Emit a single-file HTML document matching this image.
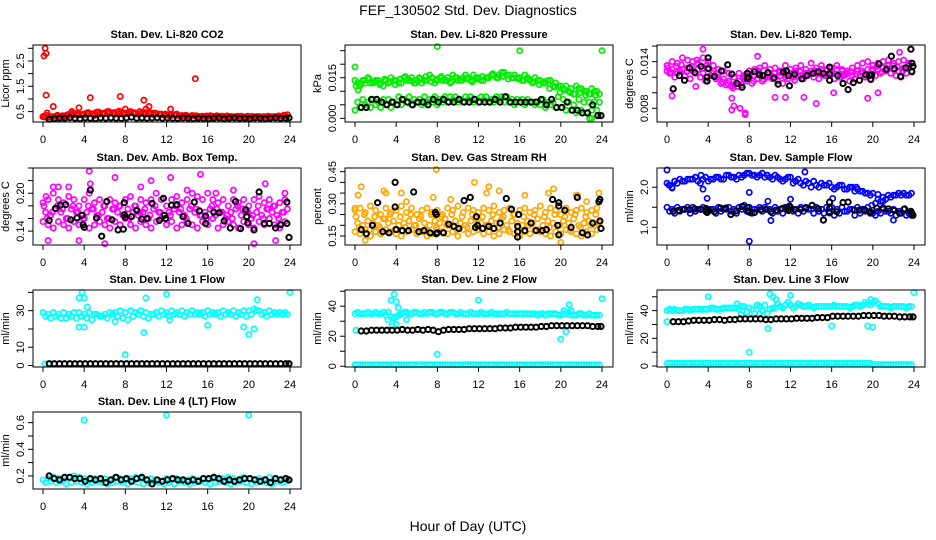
<!DOCTYPE html>
<html><head><meta charset="utf-8"><title>FEF_130502 Std. Dev. Diagnostics</title>
<style>
html,body{margin:0;padding:0;background:#fff;}
svg{display:block;font-family:"Liberation Sans",Arial,sans-serif;}
</style></head>
<body>
<svg id="fig" width="936" height="540" viewBox="0 0 936 540" xmlns="http://www.w3.org/2000/svg">
<rect width="936" height="540" fill="#fff"/>
<text x="468" y="15" text-anchor="middle" font-size="14">FEF_130502  Std. Dev. Diagnostics</text>
<text x="468" y="531" text-anchor="middle" font-size="14">Hour of Day (UTC)</text>
</svg>
<script>
const H48=[0,0.5,1,1.5,2,2.5,3,3.5,4,4.5,5,5.5,6,6.5,7,7.5,8,8.5,9,9.5,10,10.5,11,11.5,12,12.5,13,13.5,14,14.5,15,15.5,16,16.5,17,17.5,18,18.5,19,19.5,20,20.5,21,21.5,22,22.5,23,23.5];
const HQ=[0.25,0.75,1.25,1.75,2.25,2.75,3.25,3.75,4.25,4.75,5.25,5.75,6.25,6.75,7.25,7.75,8.25,8.75,9.25,9.75,10.25,10.75,11.25,11.75,12.25,12.75,13.25,13.75,14.25,14.75,15.25,15.75,16.25,16.75,17.25,17.75,18.25,18.75,19.25,19.75,20.25,20.75,21.25,21.75,22.25,22.75,23.25,23.75];
const HB=[0.6,1.1,1.6,2.1,2.6,3.1,3.6,4.1,4.6,5.1,5.6,6.1,6.6,7.1,7.6,8.1,8.6,9.1,9.6,10.1,10.6,11.1,11.6,12.1,12.6,13.1,13.6,14.1,14.6,15.1,15.6,16.1,16.6,17.1,17.6,18.1,18.6,19.1,19.6,20.1,20.6,21.1,21.6,22.1,22.6,23.1,23.6,23.9];
const HC=[0.1,0.4,0.9,1.4,1.9,2.4,2.9,3.4,3.9,4.4,4.9,5.4,5.9,6.4,6.9,7.4,7.9,8.4,8.9,9.4,9.9,10.4,10.9,11.4,11.9,12.4,12.9,13.4,13.9,14.4,14.9,15.4,15.9,16.4,16.9,17.4,17.9,18.4,18.9,19.4,19.9,20.4,20.9,21.4,21.9,22.4,22.9,23.4];
const xTicks=[0,4,8,12,16,20,24];

// P1 CO2
const co2Red=[0.3,0.28,0.3,0.32,0.3,0.35,0.38,0.4,0.38,0.42,0.35,0.4,0.42,0.45,0.4,0.42,0.45,0.5,0.45,0.42,0.4,0.45,0.42,0.4,0.38,0.35,0.4,0.35,0.32,0.35,0.3,0.32,0.3,0.32,0.3,0.32,0.3,0.28,0.3,0.28,0.3,0.28,0.3,0.3,0.28,0.3,0.32,0.35];
const co2Red2=[0.28,0.3,0.32,0.3,0.35,0.4,0.42,0.38,0.45,0.4,0.48,0.42,0.5,0.44,0.48,0.4,0.42,0.46,0.4,0.44,0.42,0.38,0.4,0.36,0.34,0.38,0.32,0.34,0.3,0.33,0.31,0.3,0.34,0.3,0.32,0.3,0.31,0.3,0.32,0.29,0.31,0.3,0.29,0.31,0.3,0.29,0.3,0.38];
const co2Red3=[0.32,0.35,0.3,0.36,0.34,0.38,0.45,0.36,0.4,0.46,0.42,0.48,0.44,0.5,0.46,0.52,0.4,0.48,0.42,0.5,0.46,0.4,0.44,0.38,0.4,0.36,0.38,0.33,0.36,0.32,0.34,0.31,0.33,0.3,0.34,0.31,0.33,0.3,0.32,0.3,0.32,0.3,0.31,0.3,0.32,0.3,0.33,0.36];
const co2OutX=[0,0.1,0.2,0.3,0.3,1.0,3.5,4.6,7.5,9.8,14.8,10.3,12.4,8.0,0.4,2.8,10.0];
const co2OutY=[0.3,2.7,3.0,2.8,1.15,0.7,0.65,1.05,1.1,0.95,1.8,0.7,0.6,0.6,0.45,0.5,0.6];
const co2Black=[0.2,0.22,0.24,0.24,0.26,0.24,0.22,0.25,0.24,0.22,0.25,0.24,0.25,0.24,0.23,0.25,0.28,0.24,0.25,0.24,0.25,0.26,0.24,0.25,0.24,0.23,0.25,0.24,0.22,0.24,0.23,0.22,0.24,0.25,0.22,0.24,0.25,0.23,0.24,0.22,0.25,0.24,0.22,0.24,0.25,0.23,0.24,0.25];

// P2 Pressure
const presUp=[0.014,0.012,0.013,0.013,0.014,0.013,0.014,0.015,0.014,0.013,0.014,0.015,0.014,0.013,0.014,0.015,0.014,0.014,0.015,0.016,0.014,0.015,0.015,0.016,0.015,0.014,0.015,0.016,0.016,0.017,0.016,0.016,0.015,0.016,0.014,0.015,0.014,0.013,0.014,0.013,0.012,0.012,0.011,0.012,0.011,0.010,0.011,0.010];
const presUp2=[0.013,0.014,0.015,0.013,0.014,0.012,0.013,0.014,0.013,0.015,0.014,0.013,0.015,0.014,0.016,0.013,0.015,0.014,0.013,0.015,0.014,0.016,0.014,0.015,0.014,0.015,0.016,0.015,0.017,0.016,0.015,0.015,0.014,0.015,0.013,0.014,0.013,0.014,0.012,0.012,0.011,0.010,0.009,0.011,0.010,0.009,0.010,0.009];
const presUp3=[0.012,0.0125,0.014,0.0145,0.0135,0.0125,0.0145,0.0135,0.0125,0.0145,0.0155,0.014,0.013,0.0145,0.0155,0.0135,0.0145,0.0155,0.014,0.0135,0.015,0.014,0.0145,0.0135,0.0145,0.0155,0.015,0.0165,0.015,0.0155,0.0145,0.015,0.0145,0.014,0.0145,0.0135,0.0125,0.0135,0.011,0.0115,0.0095,0.0105,0.0095,0.009,0.0095,0.0085,0.009,0.0085];
const presLo=[0.003,0.004,0.005,0.004,0.005,0.004,0.005,0.004,0.005,0.005,0.006,0.005,0.006,0.005,0.006,0.006,0.005,0.006,0.006,0.007,0.006,0.006,0.007,0.006,0.006,0.007,0.006,0.006,0.007,0.006,0.006,0.005,0.006,0.005,0.006,0.005,0.005,0.004,0.005,0.004,0.004,0.003,0.003,0.002,0.003,0.002,0.003,0.003];
const presLo2=[0.006,0.007,0.006,0.007,0.006,0.007,0.007,0.006,0.008,0.007,0.008,0.007,0.007,0.008,0.007,0.008,0.007,0.008,0.008,0.008,0.007,0.008,0.008,0.007,0.008,0.008,0.007,0.008,0.008,0.008,0.007,0.007,0.007,0.007,0.006,0.006,0.007,0.006,0.006,0.008,0.007,0.006,0.005,0.007,0.006,0.006,0.006,0.006];
const presBlack=[0.004,0.004,0.007,0.007,0.006,0.005,0.006,0.005,0.007,0.006,0.005,0.006,0.006,0.005,0.007,0.006,0.007,0.006,0.006,0.007,0.006,0.006,0.007,0.006,0.006,0.006,0.007,0.006,0.008,0.006,0.006,0.006,0.006,0.006,0.006,0.007,0.005,0.007,0.004,0.004,0.006,0.003,0.003,0.002,0.002,0.005,0.001,0.001];
const presOutX=[0,8,16,24,0,0.3,22.8,23.0];
const presOutY=[0.019,0.0265,0.025,0.025,0.014,0.0105,0.0,0.0];

// P3 Li-820 Temp
const tempUp=[0.0135,0.0140,0.0138,0.0145,0.0142,0.0140,0.0138,0.0145,0.0140,0.0135,0.0130,0.0128,0.0125,0.0120,0.0125,0.0122,0.0128,0.0130,0.0132,0.0135,0.0130,0.0132,0.0128,0.0135,0.0130,0.0132,0.0135,0.0130,0.0138,0.0132,0.0135,0.0130,0.0132,0.0135,0.0130,0.0128,0.0132,0.0135,0.0138,0.0140,0.0135,0.0138,0.0140,0.0142,0.0138,0.0140,0.0142,0.0138];
const tempLo=[0.0125,0.0120,0.0128,0.0122,0.0118,0.0125,0.0120,0.0115,0.0122,0.0118,0.0112,0.0110,0.0108,0.0112,0.0110,0.0115,0.0112,0.0118,0.0115,0.0120,0.0118,0.0115,0.0112,0.0118,0.0120,0.0122,0.0118,0.0125,0.0120,0.0118,0.0122,0.0125,0.0118,0.0120,0.0122,0.0115,0.0118,0.0122,0.0120,0.0118,0.0122,0.0125,0.0128,0.0125,0.0122,0.0120,0.0125,0.0128];
const tempMid=[0.0128,0.0130,0.0125,0.0130,0.0132,0.0128,0.0130,0.0125,0.0132,0.0128,0.0125,0.0118,0.0115,0.0110,0.0115,0.0118,0.0120,0.0122,0.0125,0.0122,0.0120,0.0125,0.0122,0.0120,0.0125,0.0128,0.0122,0.0125,0.0128,0.0125,0.0130,0.0128,0.0125,0.0130,0.0128,0.0125,0.0122,0.0128,0.0125,0.0130,0.0128,0.0130,0.0132,0.0135,0.0130,0.0128,0.0132,0.0135];
const tempMid2=[0.0132,0.0126,0.0134,0.0136,0.0127,0.0134,0.0142,0.0131,0.0136,0.0125,0.0120,0.0114,0.0112,0.0106,0.0108,0.0120,0.0125,0.0115,0.0128,0.0117,0.0124,0.0120,0.0126,0.0124,0.0122,0.0116,0.0127,0.0121,0.0124,0.0128,0.0126,0.0122,0.0127,0.0124,0.0120,0.0124,0.0127,0.0124,0.0128,0.0124,0.0130,0.0134,0.0127,0.0131,0.0135,0.0133,0.0128,0.0131];
const tempOutX=[0.5,3.5,6.5,6.3,7.1,7.6,7.6,8.8,14.5,19.5,22.6,6.3,10.5,11.5,2.8,16.2,20.5,13.3];
const tempOutY=[0.0096,0.0156,0.0083,0.0078,0.0080,0.0074,0.0072,0.0147,0.0086,0.0093,0.0152,0.0093,0.0094,0.0094,0.0108,0.0100,0.0100,0.0094];
const tempBlackX=[0.6,1.2,1.7,2.2,2.7,3.3,3.9,3.9,4.0,4.0,4.6,5.3,5.9,6.3,6.8,7.3,7.8,7.8,7.9,8.5,9.0,9.3,9.8,10.4,10.8,11.3,11.6,11.8,11.9,12.4,13.1,13.6,14.2,14.7,15.2,15.8,15.8,15.8,16.6,17.1,17.6,18.1,18.7,19.3,19.7,19.8,19.9,20.6,21.3,21.8,22.1,22.7,23.2,23.7,23.8,23.8,23.9];
const tempBlackY=[0.0105,0.0122,0.0116,0.0132,0.0126,0.0134,0.0115,0.0120,0.0145,0.0131,0.0121,0.0128,0.0136,0.0124,0.0112,0.0107,0.0125,0.0118,0.0120,0.0127,0.0123,0.0122,0.0126,0.0119,0.0111,0.0127,0.0128,0.0122,0.0109,0.0124,0.0118,0.0122,0.0125,0.0127,0.0125,0.0133,0.0124,0.0116,0.0122,0.0112,0.0104,0.0113,0.0116,0.0123,0.0122,0.0117,0.0123,0.0137,0.0130,0.0147,0.0131,0.0121,0.0132,0.0156,0.0138,0.0127,0.0134];

// P4 Amb Box Temp
const ambUp=[0.185,0.19,0.20,0.19,0.185,0.195,0.19,0.18,0.19,0.20,0.185,0.19,0.18,0.19,0.185,0.18,0.19,0.195,0.18,0.19,0.185,0.19,0.20,0.19,0.18,0.19,0.195,0.185,0.19,0.20,0.195,0.19,0.20,0.19,0.185,0.19,0.18,0.19,0.185,0.19,0.18,0.19,0.195,0.185,0.19,0.18,0.185,0.19];
const ambMid=[0.17,0.165,0.175,0.17,0.16,0.175,0.17,0.165,0.17,0.175,0.165,0.17,0.16,0.175,0.17,0.165,0.175,0.17,0.165,0.17,0.16,0.175,0.17,0.165,0.17,0.175,0.17,0.165,0.175,0.17,0.165,0.17,0.175,0.165,0.17,0.16,0.17,0.175,0.165,0.17,0.16,0.17,0.165,0.175,0.17,0.165,0.17,0.175];
const ambMid2=[0.18,0.16,0.17,0.18,0.175,0.16,0.18,0.17,0.16,0.18,0.175,0.165,0.18,0.16,0.175,0.18,0.165,0.16,0.18,0.17,0.175,0.165,0.18,0.17,0.16,0.165,0.18,0.175,0.16,0.18,0.175,0.165,0.16,0.18,0.175,0.17,0.165,0.16,0.18,0.175,0.17,0.165,0.18,0.16,0.175,0.18,0.16,0.17];
const ambLo=[0.155,0.15,0.145,0.155,0.15,0.145,0.155,0.15,0.16,0.145,0.15,0.155,0.15,0.145,0.155,0.15,0.16,0.15,0.145,0.155,0.15,0.145,0.155,0.16,0.15,0.155,0.145,0.15,0.155,0.15,0.145,0.155,0.15,0.16,0.145,0.15,0.155,0.15,0.145,0.155,0.15,0.145,0.155,0.15,0.16,0.15,0.145,0.155];
const ambOutX=[0.5,4.5,1.0,3.5,6.0,7.0,10.5,12.4,15.3,21.6,20.5,22.6,4.6,2.5,9.5,18.5,0.3,1.5,14.0,16.8,23.5];
const ambOutY=[0.125,0.235,0.21,0.125,0.12,0.225,0.22,0.225,0.23,0.215,0.12,0.125,0.215,0.21,0.21,0.205,0.195,0.21,0.205,0.2,0.2];
const ambBlackX=[0.6,1.2,1.7,2.2,2.7,3.3,3.8,3.9,4.0,4.6,5.2,5.7,6.2,6.7,7.3,7.8,7.9,7.9,8.0,8.6,9.1,9.6,10.1,10.6,11.3,11.7,11.8,11.9,12.5,13.0,13.6,14.1,14.7,15.2,15.8,15.8,16.6,17.1,17.6,18.2,18.7,19.2,19.7,19.8,19.9,20.5,21.0,21.5,22.0,22.6,23.1,23.7,23.7,23.9];
const ambBlackY=[0.157,0.176,0.181,0.182,0.158,0.161,0.165,0.15,0.146,0.205,0.161,0.132,0.187,0.158,0.142,0.143,0.185,0.166,0.162,0.163,0.173,0.159,0.160,0.184,0.157,0.192,0.165,0.160,0.181,0.182,0.163,0.152,0.186,0.172,0.164,0.152,0.170,0.169,0.156,0.145,0.187,0.144,0.174,0.163,0.153,0.142,0.202,0.152,0.152,0.145,0.150,0.152,0.186,0.130];

// P5 Gas Stream RH
const rhUp=[0.27,0.28,0.26,0.29,0.27,0.25,0.28,0.26,0.27,0.29,0.26,0.28,0.25,0.27,0.28,0.26,0.27,0.25,0.28,0.27,0.29,0.26,0.28,0.27,0.26,0.28,0.27,0.29,0.26,0.27,0.28,0.25,0.27,0.28,0.26,0.27,0.29,0.26,0.28,0.27,0.25,0.28,0.26,0.27,0.28,0.26,0.27,0.28];
const rhMid=[0.21,0.2,0.22,0.21,0.2,0.23,0.21,0.22,0.2,0.21,0.22,0.2,0.23,0.21,0.2,0.22,0.21,0.23,0.2,0.22,0.21,0.2,0.22,0.23,0.21,0.2,0.22,0.21,0.23,0.2,0.22,0.21,0.2,0.22,0.21,0.23,0.2,0.22,0.21,0.2,0.22,0.21,0.23,0.2,0.21,0.22,0.2,0.21];
const rhMid2=[0.24,0.19,0.25,0.18,0.24,0.19,0.23,0.25,0.18,0.24,0.19,0.25,0.2,0.24,0.18,0.25,0.19,0.24,0.2,0.25,0.18,0.24,0.19,0.25,0.18,0.24,0.2,0.25,0.19,0.24,0.18,0.25,0.19,0.24,0.2,0.25,0.18,0.24,0.19,0.25,0.2,0.24,0.18,0.25,0.19,0.24,0.2,0.25];
const rhLo=[0.17,0.16,0.18,0.15,0.17,0.16,0.18,0.17,0.16,0.15,0.17,0.18,0.16,0.17,0.15,0.16,0.18,0.17,0.16,0.17,0.15,0.18,0.16,0.17,0.18,0.16,0.17,0.15,0.16,0.18,0.17,0.16,0.15,0.17,0.16,0.18,0.17,0.16,0.15,0.17,0.16,0.18,0.17,0.16,0.15,0.17,0.16,0.18];
const rhOutX=[0,0.3,0.6,3,4.5,7.9,7.6,11.6,13,14,16.5,19.3,21.6,23.7,21.5,20,1.0,2.8,5.0,9.3,12.8,18.8,22.5];
const rhOutY=[0.28,0.34,0.38,0.35,0.35,0.46,0.33,0.40,0.38,0.36,0.34,0.37,0.34,0.35,0.34,0.12,0.13,0.36,0.31,0.32,0.35,0.35,0.31];
const rhBlackX=[0.6,1.1,1.7,2.2,2.7,3.3,3.9,3.9,4.0,4.6,5.2,5.7,6.2,6.7,7.3,7.8,7.9,7.9,8.0,8.6,9.1,9.6,10.1,10.6,11.2,11.7,11.8,11.9,12.4,13.0,13.5,14.1,14.7,15.2,15.8,15.8,15.8,15.9,16.5,17.1,17.6,18.2,18.6,19.2,19.8,19.8,19.7,19.8,20.4,21.0,21.6,22.1,22.6,23.1,23.7,23.8,23.8,23.9];
const rhBlackY=[0.18,0.16,0.20,0.305,0.17,0.165,0.285,0.40,0.18,0.175,0.175,0.355,0.17,0.175,0.165,0.26,0.25,0.16,0.165,0.165,0.205,0.195,0.185,0.315,0.33,0.19,0.24,0.2,0.185,0.195,0.185,0.21,0.325,0.275,0.195,0.17,0.145,0.25,0.175,0.21,0.175,0.175,0.18,0.32,0.305,0.29,0.2,0.155,0.27,0.19,0.33,0.165,0.155,0.21,0.31,0.32,0.22,0.185];

// P6 Sample Flow
const flowUp=[2.1,2.0,2.1,2.15,2.2,2.2,2.15,2.2,2.15,2.2,2.25,2.2,2.3,2.25,2.3,2.3,2.35,2.3,2.3,2.25,2.25,2.3,2.2,2.2,2.25,2.15,2.1,2.15,2.0,2.05,2.1,2.05,2.0,2.0,2.05,1.95,2.0,1.95,1.9,1.85,1.85,1.7,1.75,1.8,1.8,1.85,1.85,1.8];
const flowUp2=[2.05,2.15,2.2,2.15,2.2,2.25,2.1,2.25,2.2,2.25,2.2,2.3,2.25,2.2,2.25,2.35,2.3,2.25,2.35,2.3,2.2,2.25,2.15,2.25,2.1,2.2,2.05,2.1,2.15,2.0,2.05,2.1,1.95,2.05,1.95,2.0,1.9,1.9,1.85,1.8,1.6,1.65,1.7,1.75,1.8,1.8,1.8,1.85];
const flowLo=[1.5,1.45,1.5,1.45,1.5,1.5,1.45,1.5,1.4,1.45,1.5,1.45,1.5,1.45,1.5,1.55,1.5,1.45,1.5,1.5,1.45,1.5,1.45,1.5,1.5,1.45,1.5,1.5,1.45,1.5,1.45,1.5,1.5,1.45,1.5,1.4,1.45,1.5,1.45,1.5,1.35,1.4,1.45,1.4,1.45,1.4,1.45,1.35];
const flowLo2=[1.4,1.35,1.4,1.45,1.35,1.4,1.45,1.4,1.45,1.35,1.4,1.45,1.4,1.35,1.45,1.4,1.35,1.45,1.4,1.45,1.35,1.4,1.35,1.45,1.4,1.35,1.4,1.45,1.35,1.4,1.35,1.4,1.3,1.35,1.4,1.45,1.3,1.35,1.4,1.35,1.3,1.35,1.4,1.35,1.3,1.35,1.3,1.3];
const flowOutX=[0,8,8,3.9,10.1,13.4,19.9,20.5,12,9.8,0.2,0.5,3.3,3.5,16.1,18.4,21.0,22.0];
const flowOutY=[2.43,0.65,1.87,1.72,1.17,2.38,1.55,1.82,1.7,1.65,2.05,1.98,2.3,1.95,1.72,2.0,1.65,1.18];
const flowBlackX=[0.6,1.1,1.7,2.2,2.7,3.3,3.8,3.9,4.0,4.6,5.2,5.7,6.2,6.7,7.3,7.8,7.9,8.0,8.5,9.1,9.6,10.1,10.6,11.2,11.7,11.8,11.9,12.4,13.0,13.5,14.1,14.7,15.2,15.8,15.8,15.8,16.5,17.1,17.6,18.2,18.7,19.2,19.7,19.8,20.4,21.0,21.5,22.1,22.6,23.1,23.7,23.8,23.9];
const flowBlackY=[1.4,1.42,1.45,1.44,1.46,1.45,1.47,1.37,1.44,1.39,1.48,1.48,1.32,1.41,1.52,1.5,1.41,1.38,1.37,1.44,1.45,1.39,1.43,1.47,1.49,1.42,1.53,1.44,1.45,1.48,1.55,1.46,1.18,1.63,1.48,1.36,1.39,1.62,1.63,1.43,1.43,1.44,1.39,1.37,1.48,1.48,1.46,1.42,1.35,1.46,1.4,1.35,1.3];

// P7 Line 1 Flow
const l1Up=[29,28,29,28,29,28,29,29,28,29,28,27,28,29,29,30,29,30,29,30,29,28,29,30,29,30,29,30,29,30,29,29,30,29,29,30,29,30,29,30,30,31,30,29,30,29,29,29];
const l1Lo=[27,26,27,26,26,27,26,27,26,25,28,27,26,28,27,26,25,27,28,27,26,28,27,28,27,28,28,27,28,28,28,27,28,28,27,28,28,27,28,27,28,30,28,27,28,28,28,28];
const l1OutX=[3.5,3.8,4.0,3.5,4.0,8,9.8,10,12,16,19.5,20,20.5,20.8,24,0.2,4.3,7.0,12.3];
const l1OutY=[37,40,37,21,21,6,18,37,39,22,21,17,20,36,40,1,32,24,25];
const l1Black=[1,1,1,1,1,1,1,1,1,1,1,1,1,1,1,1,1,1,1,1,1,1,1,1,1,1,1,1,1,1,1,1,1,1,1,1,1,1,1,1,1,1,1,1,1,1,1,1];

// P8 Line 2 Flow
const l2Up=[35,35,35,35,36,35,34,33,33,35,36,35,36,35,35,36,35,36,35,36,35,35,35,35,35,35,35,35,35,35,35,35,35,35,35,35,35,34,35,35,34,35,34,34,35,34,34,34];
const l2Up2=[36,35,36,35,35,36,36,32,34,36,35,36,35,36,36,35,36,35,36,35,36,35,36,35,36,35,36,35,35,36,35,35,35,35,35,34,35,35,35,34,35,36,34,35,34,35,34,34];
const l2Zero=[1,1,1,1,1,1,1,1,1,1,1,1,1,1,1,1,1,1,1,1,1,1,1,1,1,1,1,1,1,1,1,1,1,1,1,1,1,1,1,1,1,1,1,1,1,1,1,1];
const l2OutX=[3.8,3.5,4.0,4.2,3.2,4.5,5,8,12,20,20.5,20.8,20.3,21,24,3.6,4.0,0.1];
const l2OutY=[48,44,43,39,31,35,31,8,44,18,23,41,37,37,45,27,28,24];
const l2Black=[23.5,23.5,24,24,24,24,24,24,24.5,24,24,24.5,24,24.5,24,23,24,24.5,24.5,24.5,24.5,25,25,25,25,25,25,25.5,25.5,25.5,26,26,26,26,26,26.5,26.5,27,27,27,27,27,27,27,27,26.5,26.5,26.5];

// P9 Line 3 Flow
const l3Up=[40,40,40,40,41,41,41,41,41,42,41,42,42,42,41,43,42,38,43,44,41,42,43,44,44,43,44,43,43,43,43,43,43,43,43,43,43,44,44,45,46,45,43,43,43,43,43,43];
const l3Up2=[41,41,40,41,40,41,41,41,42,41,41,42,42,42,43,39,41,44,40,38,42,45,42,46,42,45,43,44,42,43,43,43,44,43,43,42,44,43,46,44,47,43,43,42,43,43,42,43];
const l3Zero=[2,2,2,2,2,2,2,2,2,2,2,2,2,2,2,2,2,2,2,2,2,2,2,2,2,2,2,2,2,2,2,2,2,2,2,2,2,2,2,2,1,1,1,1,1,1,1,1];
const l3OutX=[4,8,9.8,10,10.3,12,16,19.5,20,24,0,9,8.8,10.6,19.8,6.8,7.2];
const l3OutY=[50,10,27,52,50,51,29,29,28,53,32,38,44,48,48,45,37];
const l3Black=[32,32,32,32.5,33,33,33,33,33.5,33.5,33,33.5,33.5,34,34,34,34,34,33.5,33.5,34,34,34,34,34.5,34.5,34.5,34.5,35,35,35,36,36,36,36,36,36,36.5,36.5,36.5,36.5,36,36,36,35.5,35.5,35.5,35.5];

// P10 Line 4 Flow
const l4Up=[0.17,0.18,0.19,0.18,0.17,0.19,0.2,0.19,0.18,0.17,0.18,0.17,0.18,0.17,0.19,0.18,0.17,0.18,0.19,0.18,0.17,0.18,0.17,0.16,0.18,0.17,0.18,0.16,0.17,0.18,0.17,0.18,0.17,0.18,0.17,0.18,0.19,0.18,0.17,0.19,0.18,0.17,0.18,0.17,0.19,0.18,0.17,0.18];
const l4Lo=[0.15,0.16,0.15,0.16,0.14,0.15,0.16,0.15,0.14,0.15,0.16,0.15,0.14,0.15,0.16,0.15,0.14,0.16,0.15,0.14,0.15,0.16,0.15,0.14,0.15,0.14,0.16,0.15,0.14,0.15,0.16,0.15,0.14,0.15,0.16,0.15,0.14,0.15,0.16,0.15,0.14,0.15,0.16,0.15,0.14,0.16,0.15,0.16];
const l4OutX=[4,12,20];
const l4OutY=[0.62,0.655,0.655];
const l4Black=[0.2,0.18,0.17,0.19,0.19,0.18,0.18,0.16,0.18,0.17,0.18,0.15,0.17,0.19,0.17,0.18,0.16,0.18,0.19,0.17,0.14,0.17,0.16,0.17,0.18,0.17,0.17,0.16,0.17,0.16,0.18,0.18,0.19,0.18,0.16,0.17,0.16,0.17,0.18,0.18,0.17,0.16,0.17,0.15,0.18,0.17,0.18,0.17];

const RED='#ff0000',GRN='#00ee00',MAG='#ff00ff',ORA='#ffa500',BLU='#0000ff',CYA='#00ffff',BLK='#000000';
const panels=[
 {name:'co2',title:'Stan. Dev. Li-820 CO2',ylab:'Licor ppm',col:0,row:0,ylim:[0.09,3.13],ticks:[0.5,1,1.5,2,2.5,3],labels:['0.5','','1.5','','2.5',''],
  series:[[H48,co2Red,RED,1],[HQ,co2Red2,RED,1],[HC,co2Red3,RED,1],[co2OutX,co2OutY,RED,1],[HB,co2Black,BLK,2]]},
 {name:'pressure',title:'Stan. Dev. Li-820 Pressure',ylab:'kPa',col:1,row:0,ylim:[-0.00136,0.0271],ticks:[0,0.005,0.01,0.015,0.02,0.025],labels:['0.000','','','0.015','',''],
  series:[[H48,presUp,GRN,1],[HQ,presUp2,GRN,1],[HC,presUp3,GRN,1],[H48,presLo,GRN,1],[HQ,presLo2,GRN,1],[presOutX,presOutY,GRN,1],[HB,presBlack,BLK,2]]},
 {name:'li820-temp',title:'Stan. Dev. Li-820 Temp.',ylab:'degrees C',col:2,row:0,ylim:[0.00624,0.01614],ticks:[0.008,0.01,0.012,0.014,0.016],labels:['0.008','','','0.014',''],
  series:[[H48,tempUp,MAG,1],[HQ,tempLo,MAG,1],[H48,tempMid,MAG,1],[HC,tempMid2,MAG,1],[tempOutX,tempOutY,MAG,1],[tempBlackX,tempBlackY,BLK,2]]},
 {name:'amb-box-temp',title:'Stan. Dev. Amb. Box Temp.',ylab:'degrees C',col:0,row:1,ylim:[0.118,0.240],ticks:[0.14,0.16,0.18,0.2,0.22,0.24],labels:['0.14','','','0.20','',''],
  series:[[H48,ambUp,MAG,1],[HQ,ambMid,MAG,1],[HC,ambMid2,MAG,1],[H48,ambLo,MAG,1],[ambOutX,ambOutY,MAG,1],[ambBlackX,ambBlackY,BLK,2]]},
 {name:'gas-stream-rh',title:'Stan. Dev. Gas Stream RH',ylab:'percent',col:1,row:1,ylim:[0.108,0.467],ticks:[0.15,0.2,0.25,0.3,0.35,0.4,0.45],labels:['0.15','','','0.30','','','0.45'],
  series:[[H48,rhUp,ORA,1],[HQ,rhMid,ORA,1],[HC,rhMid2,ORA,1],[H48,rhLo,ORA,1],[rhOutX,rhOutY,ORA,1],[rhBlackX,rhBlackY,BLK,2]]},
 {name:'sample-flow',title:'Stan. Dev. Sample Flow',ylab:'ml/min',col:2,row:1,ylim:[0.558,2.48],ticks:[1,1.5,2],labels:['1.0','','2.0'],
  series:[[H48,flowUp,BLU,1],[HQ,flowUp2,BLU,1],[H48,flowLo,BLU,1],[HQ,flowLo2,BLU,1],[flowOutX,flowOutY,BLU,1],[flowBlackX,flowBlackY,BLK,2]]},
 {name:'line1-flow',title:'Stan. Dev. Line 1 Flow',ylab:'ml/min',col:0,row:2,ylim:[-0.8,41.3],ticks:[0,10,20,30,40],labels:['0','10','','30',''],
  series:[[H48,l1Up,CYA,1],[HQ,l1Lo,CYA,1],[l1OutX,l1OutY,CYA,1],[HB,l1Black,BLK,2]]},
 {name:'line2-flow',title:'Stan. Dev. Line 2 Flow',ylab:'ml/min',col:1,row:2,ylim:[-0.5,50.8],ticks:[0,10,20,30,40,50],labels:['0','','20','','40',''],
  series:[[H48,l2Up,CYA,1],[HQ,l2Up2,CYA,1],[H48,l2Zero,CYA,1],[HQ,l2Zero,CYA,1],[l2OutX,l2OutY,CYA,1],[HB,l2Black,BLK,2]]},
 {name:'line3-flow',title:'Stan. Dev. Line 3 Flow',ylab:'ml/min',col:2,row:2,ylim:[-0.7,54.9],ticks:[0,10,20,30,40,50],labels:['0','','20','','40',''],
  series:[[H48,l3Up,CYA,1],[HQ,l3Up2,CYA,1],[H48,l3Zero,CYA,1],[HQ,l3Zero,CYA,1],[l3OutX,l3OutY,CYA,1],[HB,l3Black,BLK,2]]},
 {name:'line4-flow',title:'Stan. Dev. Line 4 (LT) Flow',ylab:'ml/min',col:0,row:3,ylim:[0.102,0.68],ticks:[0.2,0.3,0.4,0.5,0.6],labels:['0.2','','0.4','','0.6'],
  series:[[H48,l4Up,CYA,1],[HQ,l4Lo,CYA,1],[l4OutX,l4OutY,CYA,1],[HB,l4Black,BLK,2]]}
];

const NS='http://www.w3.org/2000/svg';
const svg=document.getElementById('fig');
const COLL=[33,345,657], ROWT=[45,168,290,412], W=268, HH=77;
function mk(tag,attrs,parent){const e=document.createElementNS(NS,tag);for(const k in attrs)e.setAttribute(k,attrs[k]);parent.appendChild(e);return e;}

panels.forEach(p=>{
  const L=COLL[p.col], T=ROWT[p.row];
  const g=mk('g',{},svg);
  
  
  const xs=h=>L+10+h*(247/24);
  const ys=v=>T+HH-(v-p.ylim[0])/(p.ylim[1]-p.ylim[0])*HH;
  const t=mk('text',{x:L+W/2,y:T-7,'text-anchor':'middle','font-size':'11','font-weight':'bold'},g);
  t.textContent=p.title;
  
  
  const pts=mk('g',{fill:'none'},g);
  
  
  p.series.forEach(s=>{
    const X=s[0],Y=s[1];
    for(let i=0;i<Y.length&&i<X.length;i++){
      const c=mk('circle',{cx:xs(X[i]).toFixed(1),cy:ys(Y[i]).toFixed(1),r:2.6,stroke:s[2],'stroke-width':s[3]===2?2:1.7},pts);
      
      
    }
  });
  const box=mk('rect',{x:L,y:T,width:W,height:HH,fill:'none',stroke:'#000','stroke-width':1},g);
  
  
  const xa=mk('g',{},g);
  
  
  mk('line',{x1:xs(0),x2:xs(24),y1:T+HH,y2:T+HH,stroke:'#000'},xa);
  xTicks.forEach(h=>{
    mk('line',{x1:xs(h),x2:xs(h),y1:T+HH,y2:T+HH+5,stroke:'#000'},xa);
    const tl=mk('text',{x:xs(h),y:T+HH+21,'text-anchor':'middle','font-size':'11'},xa);
    tl.textContent=String(h);
    
    
  });
  const ya=mk('g',{},g);
  
  
  mk('line',{x1:L,x2:L,y1:ys(p.ticks[0]),y2:ys(p.ticks[p.ticks.length-1]),stroke:'#000'},ya);
  p.ticks.forEach((v,i)=>{
    const y=ys(v);
    mk('line',{x1:L-5,x2:L,y1:y,y2:y,stroke:'#000'},ya);
    if(p.labels[i]){
      const tl=mk('text',{x:L-9,y:y,'text-anchor':'middle','font-size':'11',transform:'rotate(-90 '+(L-9)+' '+y+')'},ya);
      tl.textContent=p.labels[i];
      
      
    }
  });
  const yl=mk('text',{x:L-24,y:T+HH/2,'text-anchor':'middle','font-size':'11',transform:'rotate(-90 '+(L-24)+' '+(T+HH/2)+')'},g);
  yl.textContent=p.ylab;
  
  
});
</script>
</body></html>
